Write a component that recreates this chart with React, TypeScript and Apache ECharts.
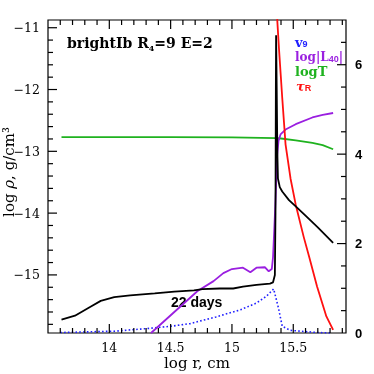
import { useEffect, useRef } from 'react';
import * as echarts from 'echarts';

// axis ranges
const X_MIN = 13.5;
const X_MAX = 15.93;
const RHO_MIN = -15.94;
const RHO_MAX = -10.875;
const R_MIN = 0;
const R_MAX = 7;

// tick values and labels
const xMajorTicks = [14, 14.5, 15, 15.5];
const xMinorTicks = [13.6, 13.7, 13.8, 13.9, 14.1, 14.2, 14.3, 14.4, 14.6, 14.7, 14.8, 14.9, 15.1, 15.2, 15.3, 15.4, 15.6, 15.7, 15.8, 15.9];
const rhoMajorTicks = [-15, -14, -13, -12, -11];
const rhoMinorTicks = [-15.8, -15.6, -15.4, -15.2, -14.8, -14.6, -14.4, -14.2, -13.8, -13.6, -13.4, -13.2, -12.8, -12.6, -12.4, -12.2, -11.8, -11.6, -11.4, -11.2];
const rightMajorTicks = [2, 4, 6];
const rightMinorTicks = [0.5, 1, 1.5, 2.5, 3, 3.5, 4.5, 5, 5.5, 6.5];
const rightTickLabels = [0, 2, 4, 6];

// log rho (left axis)
const logRho = [
  [13.61, -15.725], [13.72, -15.66], [13.85, -15.51], [13.93, -15.42], [14.04, -15.36],
  [14.17, -15.33], [14.37, -15.3], [14.53, -15.27], [14.69, -15.25], [14.76, -15.23],
  [14.9, -15.22], [15.01, -15.22], [15.09, -15.19], [15.2, -15.16], [15.31, -15.14],
  [15.335, -15.12], [15.35, -15.0], [15.355, -14.0], [15.358, -12.0], [15.36, -11.12],
  [15.365, -12.0], [15.37, -13.0], [15.375, -13.44], [15.39, -13.58], [15.41, -13.65],
  [15.465, -13.79], [15.52, -13.89], [15.6, -14.04], [15.7, -14.23], [15.825, -14.48],
];

// log T (right axis)
const logT = [
  [13.61, 4.38], [14.0, 4.38], [14.5, 4.38], [15.0, 4.375], [15.36, 4.36], [15.4, 4.35],
  [15.52, 4.31], [15.656, 4.25], [15.74, 4.2], [15.825, 4.11],
];

// log |L40| (right axis)
const logL40 = [
  [14.34, 0], [14.72, 0.94], [14.85, 1.16], [14.93, 1.34], [15.0, 1.43], [15.09, 1.46],
  [15.15, 1.36], [15.2, 1.46], [15.27, 1.47], [15.3, 1.38], [15.325, 1.43], [15.335, 1.7],
  [15.345, 2.3], [15.355, 2.95], [15.369, 3.99], [15.38, 4.3], [15.396, 4.44], [15.437, 4.55],
  [15.52, 4.67], [15.656, 4.82], [15.74, 4.88], [15.825, 4.92],
];

// v9 (right axis)
const v9 = [
  [13.6, 0.01], [14.04, 0.04], [14.31, 0.1], [14.5, 0.15], [14.66, 0.21], [14.87, 0.36],
  [15.07, 0.52], [15.2, 0.67], [15.28, 0.82], [15.34, 0.985], [15.38, 0.55], [15.41, 0.15],
  [15.475, 0.06], [15.56, 0.04], [15.7, 0.01], [15.8, 0.0],
];

// tau_R (right axis)
const tauR = [
  [15.369, 7.02], [15.383, 6.38], [15.41, 5.26], [15.437, 4.22], [15.478, 3.45], [15.52, 2.87],
  [15.585, 2.15], [15.63, 1.7], [15.694, 1.04], [15.77, 0.37], [15.825, 0.07],
];

const BLACK = '#000000';
const GREEN = '#1fb21f';
const PURPLE = '#9a1fe0';
const BLUE = '#2020ff';
const RED = '#ff1010';

const SERIF = '"DejaVu Serif", serif';
const SANS = '"Liberation Sans", Arial, sans-serif';

// layout of the plot box (pixels)
const GRID = { left: 48, right: 28, top: 20, bottom: 41 };
const SIZE = 374;
const PLOT_W = SIZE - GRID.left - GRID.right;
const PLOT_H = SIZE - GRID.top - GRID.bottom;
const MAJOR_LEN = 9;
const MINOR_LEN = 5;

const near = (a: number, list: number[]) => list.some((t) => Math.abs(a - t) < 1e-6);

// tick length in pixels -> data units of each axis
const xPer = (X_MAX - X_MIN) / PLOT_W;
const rhoPer = (RHO_MAX - RHO_MIN) / PLOT_H;

function seg(a: number[], b: number[], yAxisIndex: number) {
  return {
    type: 'line', data: [a, b], xAxisIndex: 0, yAxisIndex, showSymbol: false, symbol: 'none',
    silent: true, z: 6, clip: false,
    lineStyle: { color: BLACK, width: 1.2, opacity: 1 },
  };
}

function buildTickSeries() {
  const out: any[] = [];
  const addX = (vals: number[], lenPx: number) => vals.forEach((v) => {
    const len = lenPx * rhoPer;
    out.push(seg([v, RHO_MIN], [v, RHO_MIN + len], 0));
    out.push(seg([v, RHO_MAX], [v, RHO_MAX - len], 0));
  });
  const addL = (vals: number[], lenPx: number) => vals.forEach((v) => {
    out.push(seg([X_MIN, v], [X_MIN + lenPx * xPer, v], 0));
  });
  const addR = (vals: number[], lenPx: number) => vals.forEach((v) => {
    out.push(seg([X_MAX, v], [X_MAX - lenPx * xPer, v], 1));
  });
  addX(xMajorTicks, MAJOR_LEN);
  addX(xMinorTicks, MINOR_LEN);
  addL(rhoMajorTicks, MAJOR_LEN);
  addL(rhoMinorTicks, MINOR_LEN);
  addR(rightMajorTicks, MAJOR_LEN);
  addR(rightMinorTicks, MINOR_LEN);
  return out;
}

const textGraphics: any[] = [
  {
    type: 'text', x: 67, y: 43,
    style: {
      text: '{b|brightIb R}{s|4}{b|=9 E=2}',
      align: 'left', verticalAlign: 'middle', textAlign: 'left', textVerticalAlign: 'middle',
      fill: BLACK,
      rich: {
        b: { fontFamily: SERIF, fontWeight: 'bold', fontSize: 14, lineHeight: 18, fill: BLACK },
        s: { fontFamily: SERIF, fontWeight: 'bold', fontSize: 8, lineHeight: 9, verticalAlign: 'bottom', fill: BLACK },
      },
    },
  },
  {
    type: 'text', x: 171, y: 302,
    style: {
      text: '22 days', fontFamily: SANS, fontWeight: 'bold', fontSize: 14, fill: BLACK,
      align: 'left', verticalAlign: 'middle', textAlign: 'left', textVerticalAlign: 'middle',
    },
  },
  {
    type: 'text', x: 295, y: 42,
    style: {
      text: '{b|v}{s|9}', align: 'left', verticalAlign: 'middle', textAlign: 'left', textVerticalAlign: 'middle',
      rich: {
        b: { fontFamily: SERIF, fontWeight: 'bold', fontSize: 13, lineHeight: 12, fill: BLUE },
        s: { fontFamily: SANS, fontWeight: 'bold', fontSize: 9, lineHeight: 6, verticalAlign: 'bottom', fill: BLUE },
      },
    },
  },
  {
    type: 'text', x: 295, y: 57,
    style: {
      text: '{b|log|L}{s|40}{b||}', align: 'left', verticalAlign: 'middle', textAlign: 'left', textVerticalAlign: 'middle',
      rich: {
        b: { fontFamily: SERIF, fontWeight: 'bold', fontSize: 12, lineHeight: 12, fill: PURPLE },
        s: { fontFamily: SANS, fontWeight: 'bold', fontSize: 9, lineHeight: 6, verticalAlign: 'bottom', fill: PURPLE },
      },
    },
  },
  {
    type: 'text', x: 295, y: 71,
    style: {
      text: 'logT', fontFamily: SERIF, fontWeight: 'bold', fontSize: 13, lineHeight: 12, fill: GREEN,
      align: 'left', verticalAlign: 'middle', textAlign: 'left', textVerticalAlign: 'middle',
    },
  },
  {
    type: 'text', x: 296, y: 86,
    style: {
      text: '{b|τ}{s|R}', align: 'left', verticalAlign: 'middle', textAlign: 'left', textVerticalAlign: 'middle',
      rich: {
        b: { fontFamily: SERIF, fontWeight: 'bold', fontStyle: 'italic', fontSize: 13, lineHeight: 12, fill: RED },
        s: { fontFamily: SANS, fontWeight: 'bold', fontSize: 9, lineHeight: 6, verticalAlign: 'bottom', fill: RED },
      },
    },
  },
  {
    type: 'text', x: 197, y: 363,
    style: {
      text: 'log r, cm', fontFamily: SERIF, fontSize: 15, fill: BLACK,
      align: 'center', verticalAlign: 'middle', textAlign: 'center', textVerticalAlign: 'middle',
    },
  },
  {
    type: 'text', x: 9, y: 172, rotation: Math.PI / 2,
    style: {
      text: '{n|log }{i|ρ}{n|, g/cm³}', align: 'center', verticalAlign: 'middle', textAlign: 'center', textVerticalAlign: 'middle',
      rich: {
        n: { fontFamily: SERIF, fontSize: 15, fill: BLACK },
        i: { fontFamily: SERIF, fontStyle: 'italic', fontSize: 15, fill: BLACK },
      },
    },
  },
];

export default function App() {
  const ref = useRef<HTMLDivElement>(null);
  useEffect(() => {
    if (!ref.current) return;
    const chart = echarts.init(ref.current, undefined, { renderer: 'svg' });
    const noLine = { show: false, onZero: false };
    const noTick = { show: false };
    const noSplit = { show: false };

    const option: any = {
      animation: false,
      grid: {
        ...GRID, containLabel: false,
        show: true, borderColor: BLACK, borderWidth: 1.2, backgroundColor: 'transparent',
      },
      xAxis: [
        {
          type: 'value', position: 'bottom', min: X_MIN, max: X_MAX, interval: 0.5,
          axisLine: noLine, axisTick: noTick, splitLine: noSplit,
          axisLabel: {
            margin: 8, color: BLACK, fontFamily: SERIF, fontSize: 12.5,
            formatter: (v: number) => (near(v, xMajorTicks) ? String(v) : ''),
          },
        },
      ],
      yAxis: [
        {
          type: 'value', position: 'left', min: RHO_MIN, max: RHO_MAX, minInterval: 1, maxInterval: 1,
          axisLine: noLine, axisTick: noTick, splitLine: noSplit,
          axisLabel: {
            margin: 8, color: BLACK, fontFamily: SERIF, fontSize: 12.5,
            formatter: (v: number) => (near(v, rhoMajorTicks) ? '\u2212' + Math.abs(Math.round(v)) : ''),
          },
        },
        {
          type: 'value', position: 'right', min: R_MIN, max: R_MAX, interval: 2,
          axisLine: noLine, axisTick: noTick, splitLine: noSplit,
          axisLabel: {
            margin: 9, color: BLACK, fontFamily: SANS, fontWeight: 'bold', fontSize: 13,
            formatter: (v: number) => (near(v, rightTickLabels) ? String(v) : ''),
          },
        },
      ],
      series: [
        ...buildTickSeries(),
        { type: 'line', name: 'v9', data: v9, xAxisIndex: 0, yAxisIndex: 1, showSymbol: false, symbol: 'none',
          lineStyle: { color: BLUE, width: 1.6, type: [1.6, 2.2] } },
        { type: 'line', name: 'logT', data: logT, xAxisIndex: 0, yAxisIndex: 1, showSymbol: false, symbol: 'none',
          lineStyle: { color: GREEN, width: 1.8 } },
        { type: 'line', name: 'logL40', data: logL40, xAxisIndex: 0, yAxisIndex: 1, showSymbol: false, symbol: 'none',
          lineStyle: { color: PURPLE, width: 1.8 } },
        { type: 'line', name: 'tauR', data: tauR, xAxisIndex: 0, yAxisIndex: 1, showSymbol: false, symbol: 'none',
          lineStyle: { color: RED, width: 1.8 } },
        { type: 'line', name: 'logRho', data: logRho, xAxisIndex: 0, yAxisIndex: 0, showSymbol: false, symbol: 'none',
          lineStyle: { color: BLACK, width: 1.8 } },
      ],
      graphic: textGraphics,
    };
    chart.setOption(option);
    return () => chart.dispose();
  }, []);
  return <div ref={ref} style={{ position: 'fixed', left: 0, top: 0, width: SIZE, height: SIZE }} />;
}
